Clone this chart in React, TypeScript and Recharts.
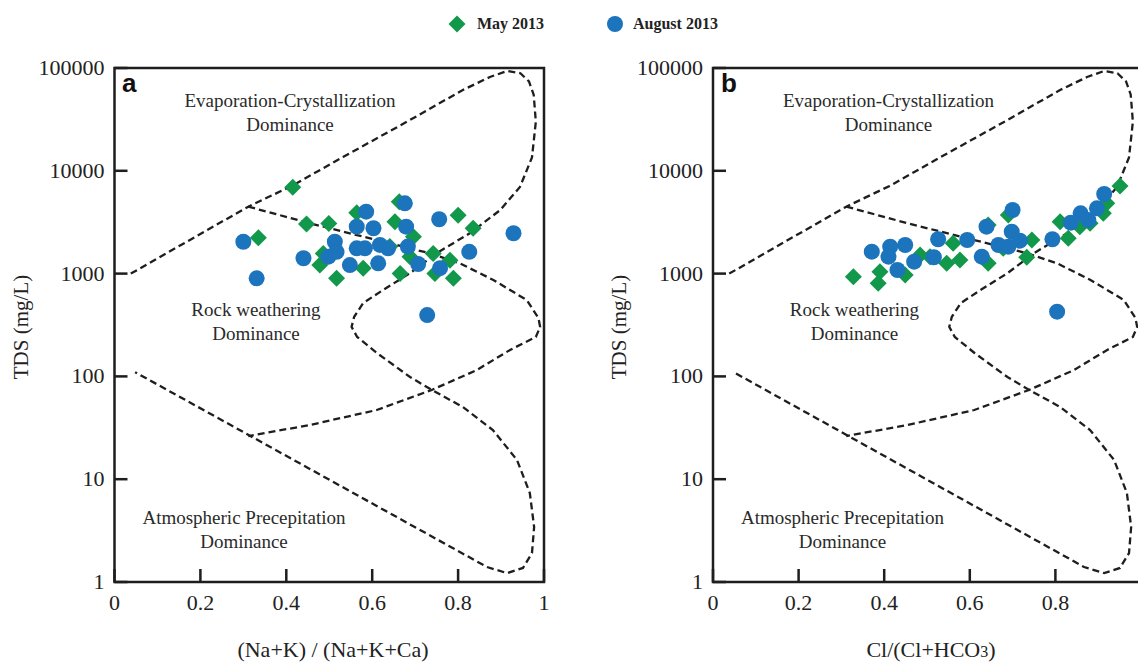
import React from 'react';
import { ScatterChart, Scatter, XAxis, YAxis, ReferenceArea } from 'recharts';

// ---------- data ----------
const xTicksA = [0, 0.2, 0.4, 0.6, 0.8, 1];
const xTicksB = [0, 0.2, 0.4, 0.6, 0.8];
const yTicks = [1, 10, 100, 1000, 10000, 100000];

// Panel a: (Na+K)/(Na+K+Ca) vs TDS
const mayA = [
  { x: 0.415, y: 6900 }, { x: 0.335, y: 2230 }, { x: 0.447, y: 3040 }, { x: 0.499, y: 3080 },
  { x: 0.564, y: 3900 }, { x: 0.663, y: 5000 }, { x: 0.653, y: 3200 }, { x: 0.696, y: 2280 },
  { x: 0.8, y: 3700 }, { x: 0.835, y: 2760 }, { x: 0.478, y: 1210 }, { x: 0.517, y: 900 },
  { x: 0.579, y: 1130 }, { x: 0.665, y: 1000 }, { x: 0.742, y: 1570 }, { x: 0.746, y: 1000 },
  { x: 0.781, y: 1350 }, { x: 0.789, y: 900 }, { x: 0.486, y: 1570 }, { x: 0.688, y: 1460 },
  { x: 0.641, y: 1830 },
];
const augA = [
  { x: 0.3, y: 2040 }, { x: 0.331, y: 900 }, { x: 0.44, y: 1410 }, { x: 0.498, y: 1460 },
  { x: 0.513, y: 2040 }, { x: 0.517, y: 1630 }, { x: 0.564, y: 2860 }, { x: 0.586, y: 4000 },
  { x: 0.603, y: 2760 }, { x: 0.564, y: 1760 }, { x: 0.583, y: 1760 }, { x: 0.548, y: 1210 },
  { x: 0.614, y: 1260 }, { x: 0.618, y: 1900 }, { x: 0.637, y: 1760 }, { x: 0.676, y: 4830 },
  { x: 0.679, y: 2860 }, { x: 0.683, y: 1830 }, { x: 0.707, y: 1240 }, { x: 0.756, y: 3380 },
  { x: 0.758, y: 1130 }, { x: 0.826, y: 1630 }, { x: 0.929, y: 2470 }, { x: 0.728, y: 395 },
];

// Panel b: Cl/(Cl+HCO3) vs TDS
const mayB = [
  { x: 0.328, y: 933 }, { x: 0.386, y: 805 }, { x: 0.39, y: 1043 }, { x: 0.449, y: 968 },
  { x: 0.484, y: 1517 }, { x: 0.507, y: 1460 }, { x: 0.546, y: 1259 }, { x: 0.561, y: 1972 },
  { x: 0.577, y: 1356 }, { x: 0.643, y: 1259 }, { x: 0.643, y: 2970 }, { x: 0.678, y: 1762 },
  { x: 0.69, y: 3715 }, { x: 0.745, y: 2123 }, { x: 0.733, y: 1442 }, { x: 0.811, y: 3200 },
  { x: 0.83, y: 2205 }, { x: 0.857, y: 2858 }, { x: 0.881, y: 3085 }, { x: 0.912, y: 3860 },
  { x: 0.92, y: 4830 }, { x: 0.951, y: 7117 },
];
const augB = [
  { x: 0.371, y: 1633 }, { x: 0.414, y: 1828 }, { x: 0.449, y: 1897 }, { x: 0.41, y: 1460 },
  { x: 0.431, y: 1084 }, { x: 0.47, y: 1306 }, { x: 0.516, y: 1442 }, { x: 0.526, y: 2157 },
  { x: 0.594, y: 2123 }, { x: 0.628, y: 1460 }, { x: 0.639, y: 2858 }, { x: 0.667, y: 1897 },
  { x: 0.69, y: 1828 }, { x: 0.7, y: 4155 }, { x: 0.698, y: 2556 }, { x: 0.717, y: 2090 },
  { x: 0.793, y: 2157 }, { x: 0.836, y: 3126 }, { x: 0.859, y: 3860 }, { x: 0.877, y: 3320 },
  { x: 0.897, y: 4315 }, { x: 0.914, y: 5945 }, { x: 0.804, y: 426 },
];

// Gibbs boundary curves (data units)
const outerCurve = [
  { x: 0.038, y: 1000 }, { x: 0.3115, y: 4480 }, { x: 0.4126, y: 7120 }, { x: 0.532, y: 13600 },
  { x: 0.688, y: 31200 }, { x: 0.811, y: 61100 }, { x: 0.874, y: 81700 }, { x: 0.914, y: 93500 },
  { x: 0.945, y: 89000 }, { x: 0.965, y: 74000 }, { x: 0.976, y: 55000 }, { x: 0.981, y: 30000 },
  { x: 0.972, y: 13500 }, { x: 0.944, y: 6960 }, { x: 0.898, y: 4150 }, { x: 0.828, y: 2480 },
  { x: 0.751, y: 1590 }, { x: 0.688, y: 1010 }, { x: 0.625, y: 692 }, { x: 0.579, y: 517 },
  { x: 0.558, y: 380 }, { x: 0.552, y: 303 }, { x: 0.565, y: 242 }, { x: 0.611, y: 169 },
  { x: 0.688, y: 98.6 }, { x: 0.739, y: 73.8 }, { x: 0.811, y: 50.4 }, { x: 0.881, y: 30.1 },
  { x: 0.937, y: 15.4 }, { x: 0.967, y: 7.34 }, { x: 0.977, y: 3.43 }, { x: 0.972, y: 1.91 },
  { x: 0.951, y: 1.37 }, { x: 0.914, y: 1.22 }, { x: 0.867, y: 1.4 }, { x: 0.048, y: 110 },
];
const innerCurve = [
  { x: 0.3115, y: 4480 }, { x: 0.455, y: 3085 }, { x: 0.6105, y: 2120 }, { x: 0.7346, y: 1575 },
  { x: 0.804, y: 1260 }, { x: 0.882, y: 867 }, { x: 0.96, y: 553 }, { x: 0.987, y: 370 },
  { x: 0.991, y: 303 }, { x: 0.981, y: 242 }, { x: 0.921, y: 181 }, { x: 0.843, y: 115 },
  { x: 0.7385, y: 73.8 }, { x: 0.6105, y: 47.1 }, { x: 0.455, y: 33.7 }, { x: 0.3115, y: 26.3 },
];

// ---------- styles ----------
const GREEN = '#12984a';
const BLUE = '#1c74bd';
const INK = '#1e1e1e';
const SERIF = 'Liberation Serif, Times New Roman, serif';
const SANS = 'Liberation Sans, Arial, sans-serif';
const TICK_LEN = 13;
const TICK_W = 2.5;

const Diamond = (props: any) => {
  const { cx, cy } = props;
  const r = 8.5;
  return (
    <polygon
      points={`${cx},${cy - r} ${cx + r},${cy} ${cx},${cy + r} ${cx - r},${cy}`}
      fill={GREEN}
    />
  );
};
const Dot = (props: any) => {
  const { cx, cy } = props;
  return <circle cx={cx} cy={cy} r={8} fill={BLUE} />;
};
const NoShape = () => <g />;

// inward tick marks (filled bars) and tick labels, placed by the chart's scales
const XTickMark = (props: any) => {
  const { cx, cy, payload } = props;
  return (
    <g>
      <rect x={cx - TICK_W / 2} y={cy - TICK_LEN} width={TICK_W} height={TICK_LEN} fill={INK} />
      <text x={cx} y={cy + 28} textAnchor="middle" fontFamily={SERIF} fontSize={22} fill="#222">
        {String(payload.x)}
      </text>
    </g>
  );
};
const YTickMark = (props: any) => {
  const { cx, cy, payload } = props;
  return (
    <g>
      <rect x={cx} y={cy - TICK_W / 2} width={TICK_LEN} height={TICK_W} fill={INK} />
      <text x={cx - 10} y={cy + 7} textAnchor="end" fontFamily={SERIF} fontSize={22} fill="#222">
        {String(payload.y)}
      </text>
    </g>
  );
};

const dashLine = { stroke: INK, strokeWidth: 2.3, strokeDasharray: '7 4', fill: 'none' };

type PanelProps = {
  may: { x: number; y: number }[];
  aug: { x: number; y: number }[];
  xTicks: number[];
  yAxisWidth: number;
  marginRight: number;
};

const Panel = ({ may, aug, xTicks, yAxisWidth, marginRight }: PanelProps) => {
  const xTickPoints = xTicks.map((t) => ({ x: t, y: yTicks[0] }));
  const yTickPoints = yTicks.map((t) => ({ x: xTicks[0], y: t }));
  return (
    <ScatterChart
      width={560}
      height={664}
      margin={{ top: 68, right: marginRight, bottom: 52, left: 0 }}
    >
      <XAxis
        type="number"
        dataKey="x"
        domain={[0, 1]}
        ticks={xTicks}
        height={30}
        axisLine={false}
        tickLine={false}
        tick={false}
      />
      <YAxis
        type="number"
        dataKey="y"
        scale="log"
        domain={[1, 100000]}
        ticks={yTicks}
        width={yAxisWidth}
        axisLine={false}
        tickLine={false}
        tick={false}
      />
      <ReferenceArea
        x1={0}
        x2={1}
        y1={1}
        y2={100000}
        fill="none"
        fillOpacity={0}
        stroke={INK}
        strokeWidth={2.5}
        ifOverflow="visible"
      />
      <Scatter data={outerCurve} line={dashLine} lineType="joint" shape={NoShape} isAnimationActive={false} />
      <Scatter data={innerCurve} line={dashLine} lineType="joint" shape={NoShape} isAnimationActive={false} />
      <Scatter data={may} shape={Diamond} isAnimationActive={false} />
      <Scatter data={aug} shape={Dot} isAnimationActive={false} />
      <Scatter data={xTickPoints} shape={XTickMark} isAnimationActive={false} />
      <Scatter data={yTickPoints} shape={YTickMark} isAnimationActive={false} />
    </ScatterChart>
  );
};

const RegionLabels = ({ dx }: { dx: number }) => (
  <g fontFamily={SERIF} fontSize={19} fill="#2a2a2a" textAnchor="middle">
    <text x={290 + dx} y={107}>Evaporation-Crystallization</text>
    <text x={290 + dx} y={131}>Dominance</text>
    <text x={256 + dx} y={316}>Rock weathering</text>
    <text x={256 + dx} y={340}>Dominance</text>
    <text x={244 + dx} y={524}>Atmospheric Precepitation</text>
    <text x={244 + dx} y={548}>Dominance</text>
  </g>
);

export default function App() {
  return (
    <div
      style={{
        position: 'fixed',
        left: 0,
        top: 0,
        width: 1138,
        height: 664,
        overflow: 'hidden',
        background: '#fff',
      }}
    >
      <div style={{ position: 'absolute', left: 0, top: 0 }}>
        <Panel may={mayA} aug={augA} xTicks={xTicksA} yAxisWidth={114.5} marginRight={16} />
      </div>
      <div style={{ position: 'absolute', left: 600, top: 0 }}>
        <Panel may={mayB} aug={augB} xTicks={xTicksB} yAxisWidth={113} marginRight={19} />
      </div>
      <svg
        width={1138}
        height={664}
        style={{ position: 'absolute', left: 0, top: 0, pointerEvents: 'none' }}
      >
        {/* legend */}
        <polygon points="457,15.5 465.5,24 457,32.5 448.5,24" fill={GREEN} />
        <text x={477} y={29} fontFamily={SERIF} fontWeight="bold" fontSize={16} fill="#222">
          May 2013
        </text>
        <circle cx={615} cy={24} r={8} fill={BLUE} />
        <text x={633} y={29} fontFamily={SERIF} fontWeight="bold" fontSize={16} fill="#222">
          August 2013
        </text>

        {/* panel letters */}
        <text x={122} y={92} fontFamily={SANS} fontWeight="bold" fontSize={26} fill="#111">a</text>
        <text x={721} y={92} fontFamily={SANS} fontWeight="bold" fontSize={26} fill="#111">b</text>

        <RegionLabels dx={0} />
        <RegionLabels dx={598.5} />

        {/* axis titles */}
        <text
          transform="translate(28,327) rotate(-90)"
          textAnchor="middle"
          fontFamily={SERIF}
          fontSize={21}
          fill="#222"
        >
          TDS (mg/L)
        </text>
        <text
          transform="translate(626,327) rotate(-90)"
          textAnchor="middle"
          fontFamily={SERIF}
          fontSize={21}
          fill="#222"
        >
          TDS (mg/L)
        </text>
        <text x={333} y={657} textAnchor="middle" fontFamily={SERIF} fontSize={22} fill="#222">
          (Na+K) / (Na+K+Ca)
        </text>
        <text x={931} y={657} textAnchor="middle" fontFamily={SERIF} fontSize={22} fill="#222">
          Cl/(Cl+HCO<tspan fontSize={16}>3</tspan>)
        </text>
      </svg>
    </div>
  );
}
